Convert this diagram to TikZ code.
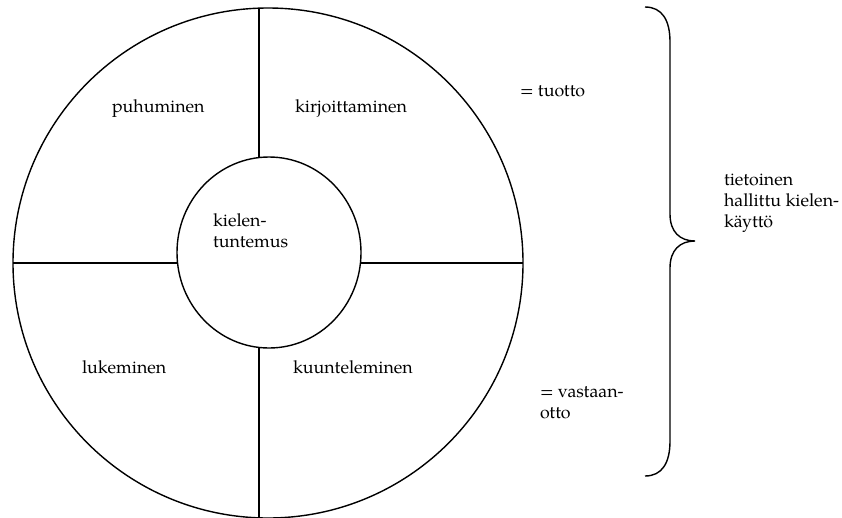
\documentclass[tikz,border=0pt]{standalone}
\usepackage{fontspec}
\setmainfont{texgyrepagella}[Extension=.otf, UprightFont=*-regular, BoldFont=*-bold, ItalicFont=*-italic, BoldItalicFont=*-bolditalic]
\usetikzlibrary{shapes.geometric}
\begin{document}
\begin{tikzpicture}[x=1pt, y=-1pt,
  rule/.style={line width=1.4pt, line cap=butt},
  ring/.style={draw, line width=1.4pt, inner sep=0pt, outer sep=0pt},
  lbl/.style={inner sep=0pt, outer sep=0pt, anchor=base west, align=left,
    font=\fontsize{17.8}{21}\selectfont}]
  \useasboundingbox (0,0) rectangle (842,517);

  % outer ring and central circle
  \node[ring, circle, minimum size=510pt] (outer) at (268,263) {};
  \node[ring, ellipse, minimum width=184pt, minimum height=191pt] (inner) at (269,252.5) {};

  % dividing lines
  \coordinate (vTop) at (259,8.2);
  \coordinate (vInTop) at (259,157.6);
  \coordinate (vInBot) at (259,347.4);
  \coordinate (vBot) at (259,517.8);
  \draw[rule] (vTop) -- (vInTop);
  \draw[rule] (vInBot) -- (vBot);
  \draw[rule] (outer.west) -- (inner.west |- outer.west);
  \draw[rule] (inner.east |- outer.east) -- (outer.east);

  % quadrant labels (multi-line nodes sit on the baseline of their last line)
  \node[lbl] (puhu) at (112,112) {puhuminen};
  \node[lbl] (kirj) at (295,112) {kirjoittaminen};
  \node[lbl] (luke) at (82,373) {lukeminen};
  \node[lbl] (kuun) at (293,373) {kuunteleminen};
  \node[lbl] (kiel) at (213,247) {kielen-\\tuntemus};

  % side notes
  \node[lbl] (tuot) at (520,96) {= tuotto};
  \node[lbl] (vast) at (540,418) {= vastaan-\\otto};

  % brace
  \coordinate (bTop) at (645,7);
  \coordinate (bTip) at (695,241);
  \coordinate (bBot) at (645,476);
  \draw[rule] (bTop) .. controls (662,7) and (670,20) .. (670,42)
    -- (670,214) .. controls (670,232) and (680,241) .. (bTip)
    .. controls (680,241) and (670,250) .. (670,268)
    -- (670,441) .. controls (670,463) and (662,476) .. (bBot);
  \node[lbl] (tiet) at (724,227) {tietoinen\\hallittu kielen-\\käyttö};
\end{tikzpicture}
\end{document}
